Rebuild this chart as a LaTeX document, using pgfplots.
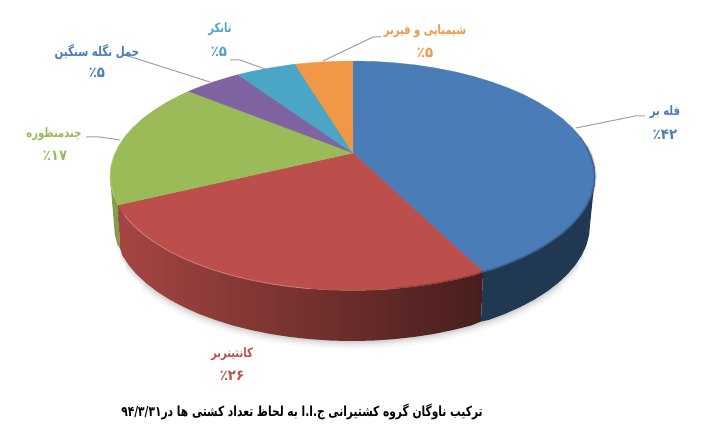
\documentclass[border=0pt]{standalone}
\usepackage{pgfplots}
\usepackage{pgfplotstable}
\pgfplotsset{compat=1.18}
\usepackage{fontspec}
\TeXXeTstate=1
\newfontfamily\arabicfont[Script=Arabic]{DejaVu Sans}
\definecolor{cblue}{HTML}{4A7DB8}
\definecolor{cred}{HTML}{BC4F4C}
\definecolor{cgreen}{HTML}{9BBB59}
\definecolor{cpurple}{HTML}{8064A2}
\definecolor{cteal}{HTML}{4AA6C4}
\definecolor{corange}{HTML}{F29745}
\definecolor{cleader}{HTML}{A0A0A0}
\pgfplotstableread{
x y
114 225
114.9 235.1
117.6 245.1
122.1 255
128.4 264.7
136.3 274
145.9 283
157 291.5
169.7 299.6
183.7 307
199 313.9
215.5 320
233 325.5
251.4 330.1
270.6 334
290.4 337
310.7 339.2
331.3 340.6
352 341
372.7 340.6
393.3 339.2
413.6 337
433.4 334
452.6 330.1
471 325.5
488.5 320
505 313.9
520.3 307
534.3 299.6
547 291.5
558.1 283
567.7 274
575.6 264.7
581.9 255
586.4 245.1
589.1 235.1
590 225
}\bottomarc
\newcommand{\lab}[6][1.3]{\node[text=#2,font=\arabicfont\bfseries\fontsize{#6}{#6}\selectfont,inner sep=0pt] at (axis cs:#3,#4) {\scalebox{1}[#1]{#5}};}
\begin{document}
\begin{tikzpicture}
\path[use as bounding box] (0,0) rectangle (529.5pt,328.5pt);
\begin{axis}[at={(0,0)},anchor=south west,scale only axis,width=529.5pt,height=328.5pt,
  xmin=0,xmax=706,ymin=0,ymax=438,y dir=reverse,hide axis,clip=false]
% soft shadow
\addplot[draw=black,opacity=.03,line width=12pt,restrict x to domain=145:565] table {\bottomarc};
\addplot[draw=black,opacity=.04,line width=8pt,restrict x to domain=128:578] table {\bottomarc};
\addplot[draw=black,opacity=.05,line width=5pt,restrict x to domain=122:584] table {\bottomarc};
\addplot[draw=black,opacity=.06,line width=2.5pt,restrict x to domain=117:589] table {\bottomarc};
% sides
\addplot[draw=none,fill=cgreen!85!black] coordinates {(110,176.5)(110.9,186.4)(113.7,196.3)(118,205)(120,248)(117.6,245.1)(114.9,235.1)(114,225)} -- cycle;
\addplot[draw=none,left color=cred!88!black,middle color=cred!62!black,right color=cred!38!black] coordinates {(118,205)(124.6,215.5)(132.7,224.7)(142.5,233.5)(153.9,241.9)(166.7,249.8)(181,257.1)(196.6,263.8)(213.4,269.9)(231.2,275.2)(250,279.8)(269.6,283.6)(289.7,286.6)(310.4,288.8)(331.4,290.1)(352.5,290.5)(373.6,290.1)(394.6,288.8)(415.3,286.6)(435.4,283.6)(455,279.8)(473.8,275.2)(483,272)(481,321.5)(471,325.5)(452.6,330.1)(433.4,334)(413.6,337)(393.3,339.2)(372.7,340.6)(352,341)(331.3,340.6)(310.7,339.2)(290.4,337)(270.6,334)(251.4,330.1)(233,325.5)(215.5,320)(199,313.9)(183.7,307)(169.7,299.6)(157,291.5)(145.9,283)(136.3,274)(128.4,264.7)(122.1,255)(120,248)} -- cycle;
\addplot[draw=none,fill=cblue!45!black] coordinates {(595,176.5)(594.1,186.4)(591.3,196.3)(586.7,206)(580.4,215.5)(572.3,224.7)(562.5,233.5)(551.1,241.9)(538.3,249.8)(524,257.1)(508.4,263.8)(491.6,269.9)(483,272)(481,321.5)(488.5,320)(505,313.9)(520.3,307)(534.3,299.6)(547,291.5)(558.1,283)(567.7,274)(575.6,264.7)(581.9,255)(586.4,245.1)(589.1,235.1)(590,225)} -- cycle;
% top slices
\addplot[draw=cblue,line width=.2pt,fill=cblue] coordinates {(353,153)(352.5,61)(373.6,61.4)(394.6,62.8)(415.3,64.9)(435.4,68)(455,71.8)(473.8,76.5)(491.6,81.9)(508.4,88)(524,94.8)(538.3,102.3)(551.1,110.3)(562.5,118.75)(572.3,127.7)(580.4,137)(586.7,146.6)(591.3,156.4)(594.1,166.4)(595,176.5)(594.1,186.4)(591.3,196.3)(586.7,206)(580.4,215.5)(572.3,224.7)(562.5,233.5)(551.1,241.9)(538.3,249.8)(524,257.1)(508.4,263.8)(491.6,269.9)(483,272)} -- cycle;
\addplot[draw=cred,line width=.2pt,fill=cred] coordinates {(353,153)(483,272)(473.8,275.2)(455,279.8)(435.4,283.6)(415.3,286.6)(394.6,288.8)(373.6,290.1)(352.5,290.5)(331.4,290.1)(310.4,288.8)(289.7,286.6)(269.6,283.6)(250,279.8)(231.2,275.2)(213.4,269.9)(196.6,263.8)(181,257.1)(166.7,249.8)(153.9,241.9)(142.5,233.5)(132.7,224.7)(124.6,215.5)(118,205)} -- cycle;
\addplot[draw=cgreen,line width=.2pt,fill=cgreen] coordinates {(353,153)(118,205)(113.7,196.3)(110.9,186.4)(110,176.5)(110.9,166.4)(113.7,156.4)(118.3,146.6)(124.6,137)(132.7,127.7)(142.5,118.75)(153.9,110.3)(166.7,102.3)(181,94.8)(188.7,91.3)} -- cycle;
\addplot[draw=cpurple,line width=.2pt,fill=cpurple] coordinates {(353,153)(188.7,91.3)(196.6,88)(213.4,81.9)(231.2,76.5)(238,74.7)} -- cycle;
\addplot[draw=cteal,line width=.2pt,fill=cteal] coordinates {(353,153)(238,74.7)(250,71.8)(269.6,68)(289.7,64.9)(295,64.1)} -- cycle;
\addplot[draw=corange,line width=.2pt,fill=corange] coordinates {(353,153)(295,64.1)(310.4,62.8)(331.4,61.4)(352.5,61)} -- cycle;
% rim bevels
\addplot[draw=cred!70!white,line width=.7pt,opacity=.8] coordinates {(124.6,215.5)(132.7,224.7)(142.5,233.5)(153.9,241.9)(166.7,249.8)(181,257.1)(196.6,263.8)(213.4,269.9)(231.2,275.2)(250,279.8)(269.6,283.6)(289.7,286.6)(310.4,288.8)};
\addplot[draw=cgreen!70!white,line width=.7pt,opacity=.7] coordinates {(114,196.3)(110.9,186.4)(110,176.5)(110.9,166.4)(113.7,156.4)};
\addplot[draw=cblue!55!black,line width=2.4pt,opacity=.22] coordinates {(586.7,146.6)(591.3,156.4)(594.1,166.4)(595,176.5)(594.1,186.4)(591.3,196.3)(586.7,206)(580.4,215.5)(572.3,224.7)(562.5,233.5)(551.1,241.9)(538.3,249.8)(524,257.1)(508.4,263.8)(491.6,269.9)(483,272)};
\addplot[draw=cblue!55!black,line width=1pt,opacity=.4] coordinates {(580.4,137)(586.7,146.6)(591.3,156.4)(594.1,166.4)(595,176.5)(594.1,186.4)(591.3,196.3)(586.7,206)(580.4,215.5)(572.3,224.7)(562.5,233.5)(551.1,241.9)(538.3,249.8)(524,257.1)(508.4,263.8)(491.6,269.9)(483,272)};
\addplot[draw=cred!45!black,line width=1.6pt,opacity=.35] coordinates {(483,272)(473.8,275.2)(455,279.8)(435.4,283.6)(415.3,286.6)(394.6,288.8)};
% leader lines
\addplot[draw=cleader,line width=.75pt] coordinates {(576,128)(635,116)(645,116)};
\addplot[draw=cleader,line width=.75pt] coordinates {(323,61)(373,37)(381,37)};
\addplot[draw=cleader,line width=.75pt] coordinates {(230,60)(240,60)(265,69)};
\addplot[draw=cleader,line width=.75pt] coordinates {(125,55)(210,82)};
\addplot[draw=cleader,line width=.75pt] coordinates {(86,137)(100,137)(120,140)};
% labels
\lab{cblue}{665}{112}{\beginR فله بر\endR}{7.5}
\lab[1.1]{cblue}{665}{135}{\beginL ٪۴۲\endL}{10}
\lab{corange}{425}{31}{\beginR شیمیایی و قیربر\endR}{7.5}
\lab[1.1]{corange}{425}{53}{\beginL ٪۵\endL}{10}
\lab{cteal}{220}{29}{\beginR تانکر\endR}{7.5}
\lab[1.1]{cteal}{219}{52}{\beginL ٪۵\endL}{10}
\lab{cblue}{97}{52}{\beginR حمل نگله سنگین\endR}{7.7}
\lab[1.1]{cblue}{97}{73}{\beginL ٪۵\endL}{10}
\lab{cgreen}{54}{134}{\beginR چندمنظوره\endR}{7.5}
\lab[1.1]{cgreen}{55}{156}{\beginL ٪۱۷\endL}{10}
\lab{cred}{232}{354}{\beginR کانتینربر\endR}{7.5}
\lab[1.1]{cred}{232}{376}{\beginL ٪۲۶\endL}{10}
\lab{black}{302}{412}{\beginR ترکیب ناوگان گروه کشتیرانی ج.ا.ا به لحاظ تعداد کشتی ها در\beginL ۹۴/۳/۳۱\endL\endR}{8}
\end{axis}
\end{tikzpicture}
\end{document}
